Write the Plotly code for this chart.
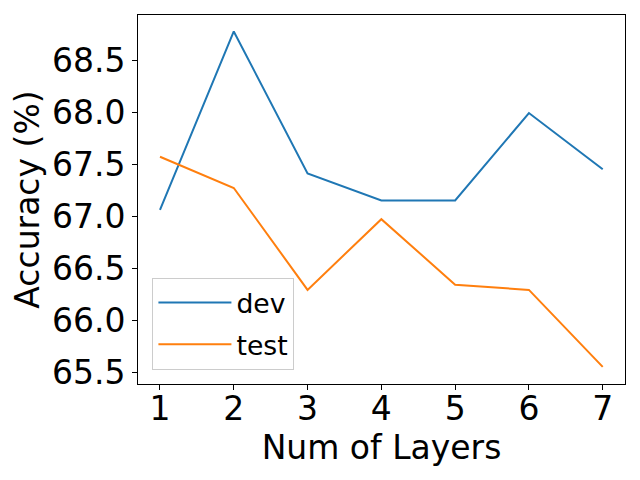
import plotly.graph_objects as go

layers = [1, 2, 3, 4, 5, 6, 7]
dev = [67.06, 68.775, 67.41, 67.15, 67.15, 67.99, 67.45]
test = [67.57, 67.27, 66.29, 66.97, 66.34, 66.29, 65.55]
y_ticks = [65.5, 66.0, 66.5, 67.0, 67.5, 68.0, 68.5]
y_tick_text = ["65.5", "66.0", "66.5", "67.0", "67.5", "68.0", "68.5"]

FONT = "DejaVu Sans"

fig = go.Figure()
fig.add_trace(go.Scatter(x=layers, y=dev, mode="lines", name="dev", legendgroup="dev",
                         line=dict(color="#1f77b4", width=2)))
fig.add_trace(go.Scatter(x=layers, y=test, mode="lines", name="test", legendgroup="test",
                         line=dict(color="#ff7f0e", width=2)))

axis_common = dict(showline=True, linecolor="black", linewidth=1, mirror=True,
                   ticks="outside", ticklen=5, tickwidth=1, tickcolor="black",
                   showgrid=False, zeroline=False, automargin=False,
                   tickfont=dict(family=FONT, size=33, color="black"))

fig.update_layout(
    width=640, height=480,
    paper_bgcolor="white", plot_bgcolor="white",
    margin=dict(l=138, r=15, t=15, b=96),
    font=dict(family=FONT, color="black"),
    xaxis=dict(range=[0.702, 7.302], tickvals=layers, ticklabelstandoff=-10,
               title=dict(text="Num of Layers", font=dict(family=FONT, size=33), standoff=1),
               **axis_common),
    yaxis=dict(range=[65.385, 68.933], tickvals=y_ticks, ticktext=y_tick_text,
               title=dict(text="Accuracy (%)", font=dict(family=FONT, size=33), standoff=2),
               **axis_common),
    legend=dict(x=0.0296, y=0.0388, xanchor="left", yanchor="bottom",
                bgcolor="rgba(255,255,255,0.8)", bordercolor="#cccccc", borderwidth=1,
                itemwidth=73, tracegroupgap=4,
                font=dict(family=FONT, size=26.7, color="black")),
    showlegend=True,
)

fig.write_html("out.html", config={"displayModeBar": False},
               post_script="document.body.style.margin='0';")
